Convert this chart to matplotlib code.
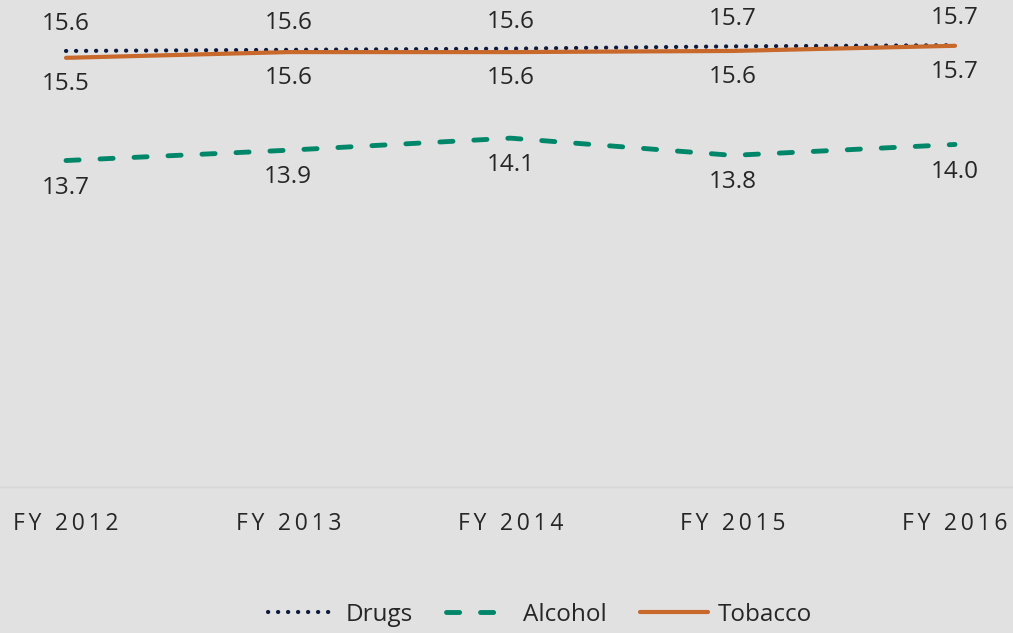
import matplotlib.pyplot as plt

years = ['FY 2012', 'FY 2013', 'FY 2014', 'FY 2015', 'FY 2016']
drugs = [15.60, 15.62, 15.64, 15.68, 15.70]
alcohol = [13.69, 13.87, 14.08, 13.78, 13.97]
tobacco = [15.48, 15.58, 15.58, 15.60, 15.69]

bg = '#e1e1e1'
txt = '#262626'
plt.rcParams['font.family'] = ['Open Sans', 'DejaVu Sans']

fig = plt.figure(figsize=(10.13, 6.33), dpi=100, facecolor=bg)
ax = fig.add_axes([0, 1 - 487 / 633, 1, (487 - 28) / 633])
ax.set_facecolor(bg)

x = list(range(len(years)))
ax.plot(x, drugs, color='#0c1a40', lw=3, linestyle=(0, (0.05, 2.35)),
        dash_capstyle='round', label='Drugs', zorder=2)
ax.plot(x, alcohol, color='#00876a', lw=3.5, linestyle=(0, (2.7, 4.3)),
        dash_capstyle='round', label='Alcohol', zorder=3)
ax.plot(x, tobacco, color='#c8682b', lw=3, solid_capstyle='round',
        label='Tobacco', zorder=3)

# data labels
for i in x:
    ax.annotate(f'{drugs[i]:.1f}', (i, drugs[i]), xytext=(0, 19.5),
                textcoords='offset points', ha='center', va='center',
                fontsize=17.5, color=txt)
    ax.annotate(f'{tobacco[i]:.1f}', (i, tobacco[i]), xytext=(0, -19),
                textcoords='offset points', ha='center', va='center',
                fontsize=17.5, color=txt)
    ax.annotate(f'{alcohol[i]:.1f}', (i, alcohol[i]), xytext=(0, -19.5),
                textcoords='offset points', ha='center', va='center',
                fontsize=17.5, color=txt)

ax.set_xlim(-0.297, 4.261)
ax.set_ylim(8, 16)
ax.set_yticks([])
ax.set_xticks(x)
spaced = ['\u2009'.join(list(y)) for y in years]
ax.set_xticklabels(spaced, fontsize=16.5, color=txt)
ax.tick_params(axis='x', length=0, pad=18)
for s in ['top', 'left', 'right']:
    ax.spines[s].set_visible(False)
ax.spines['bottom'].set_color('#d6d6d6')
ax.spines['bottom'].set_linewidth(1)

leg = fig.legend(loc='center', bbox_to_anchor=(0.533, 1 - 615 / 633), ncol=3,
                 frameon=False, fontsize=17.5, handlelength=2.8,
                 handletextpad=0.4, columnspacing=1.35)
for t in leg.get_texts():
    t.set_color(txt)

fig.savefig('out.png', dpi=100, facecolor=bg)
